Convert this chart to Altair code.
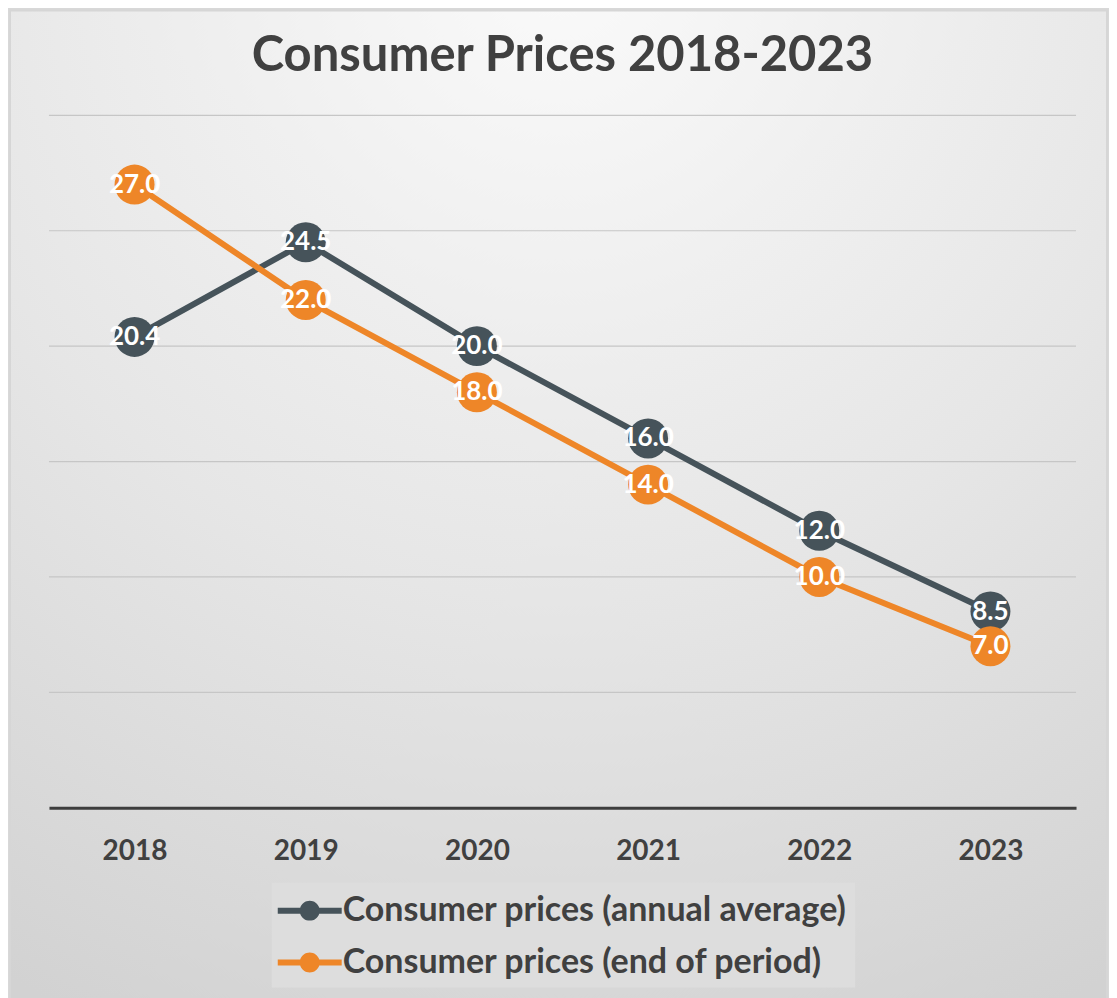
import altair as alt
import pandas as pd

years = ["2018", "2019", "2020", "2021", "2022", "2023"]
annual_avg = [20.4, 24.5, 20.0, 16.0, 12.0, 8.5]
end_period = [27.0, 22.0, 18.0, 14.0, 10.0, 7.0]
series_names = ["Consumer prices (annual average)", "Consumer prices (end of period)"]
series_colors = ["#46535a", "#ee8628"]
grid_values = [5, 10, 15, 20, 25, 30]

rows = []
for y, v in zip(years, annual_avg):
    rows.append({"year": y, "value": v, "series": series_names[0]})
for y, v in zip(years, end_period):
    rows.append({"year": y, "value": v, "series": series_names[1]})
df = pd.DataFrame(rows)

W, H = 1028, 693
PL, PT, PR, PB = 41, 107, 33, 190
FONT = "Lato"

bg = alt.Chart(pd.DataFrame({"a": [0]})).mark_rect(
    color=alt.Gradient(
        gradient="radial",
        stops=[alt.GradientStop(color="#fafafa", offset=0),
               alt.GradientStop(color="#e6e6e6", offset=0.55),
               alt.GradientStop(color="#d2d2d2", offset=1)],
        x1=0.5, y1=0.0, r1=0, x2=0.5, y2=0.0, r2=1.05),
    stroke="#d6d6d6", strokeWidth=2
).encode(
    x=alt.value(-PL + 2), x2=alt.value(W + PR - 2),
    y=alt.value(-PT + 2), y2=alt.value(H + PB + 20)
)

y_scale = alt.Scale(domain=[0, 30], nice=False)

grid = alt.Chart(pd.DataFrame({"g": grid_values})).mark_rule(
    color="#c6c6c6", strokeWidth=1.2
).encode(
    y=alt.Y("g:Q", scale=y_scale, axis=None),
    x=alt.value(0), x2=alt.value(W)
)

x_enc = alt.X("year:O", scale=alt.Scale(type="point", padding=0.5), sort=years,
              axis=alt.Axis(title=None, labelAngle=0, labelFontSize=28, labelFont=FONT,
                            labelFontWeight="bold", labelColor="#404040", labelPadding=30,
                            ticks=False, domainColor="#3d3d3d", domainWidth=3, grid=False,
                            zindex=1))
y_enc = alt.Y("value:Q", scale=y_scale, axis=None)
color_scale = alt.Scale(domain=series_names, range=series_colors)

legend_path = ("M -1.1 -0.15 L 0.023 -0.15 A 0.5 0.5 0 0 1 0.977 -0.15 L 2.1 -0.15 "
               "L 2.1 0.15 L 0.977 0.15 A 0.5 0.5 0 0 1 0.023 0.15 L -1.1 0.15 Z")
legend = alt.Legend(title=None, orient="none", legendX=223, legendY=768,
                    direction="vertical", symbolType=legend_path,
                    symbolSize=1600, symbolStrokeWidth=0,
                    labelFont=FONT, labelFontSize=34, labelFontWeight="bold",
                    labelColor="#404040", labelOffset=23, labelLimit=800,
                    rowPadding=15, fillColor="#dddddd", padding=8,
                    symbolOpacity=1, zindex=1)
color_enc = alt.Color("series:N", scale=color_scale, legend=legend)

base = alt.Chart(df)

lines = base.mark_line(strokeWidth=6).encode(
    x=x_enc, y=y_enc, color=color_enc, detail="series:N"
)

points = base.mark_point(filled=True, size=1600, opacity=1, strokeWidth=0).encode(
    x=x_enc, y=y_enc, color=color_enc
)

labels = base.mark_text(font=FONT, fontSize=26, fontWeight="bold", color="white",
                        align="center", baseline="middle").encode(
    x=x_enc, y=y_enc,
    text=alt.Text("value:Q", format=".1f")
)

chart = alt.layer(bg, grid, lines, points, labels).properties(
    width=W, height=H,
    autosize=alt.AutoSizeParams(type="none"),
    padding={"left": PL, "top": PT, "right": PR, "bottom": PB},
    title=alt.Title("Consumer Prices 2018-2023", font=FONT, fontSize=49, fontWeight="bold",
                    color="#404040", anchor="middle", offset=-72)
).configure_view(stroke=None).configure(background="#d8d8d8")

chart.save("out.html", embed_options={"renderer": "svg", "actions": False})
